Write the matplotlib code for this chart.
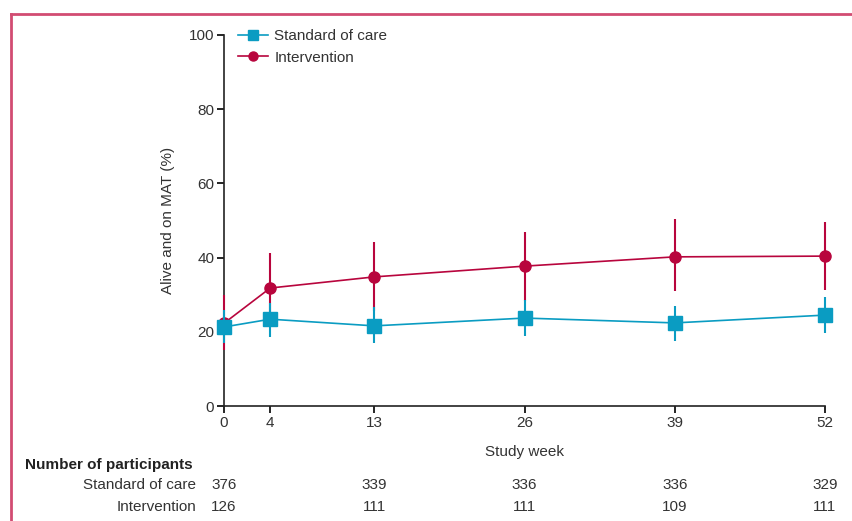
import matplotlib
matplotlib.use("Agg")
import matplotlib.pyplot as plt
from matplotlib.lines import Line2D

plt.rcParams["font.family"] = ["Liberation Sans Narrow", "Liberation Sans", "DejaVu Sans"]

weeks = [0, 4, 13, 26, 39, 52]

soc_mean = [21.3, 23.4, 21.6, 23.7, 22.4, 24.5]
soc_low = [17.0, 18.6, 17.0, 19.0, 17.5, 19.7]
soc_high = [26.0, 27.7, 26.6, 28.5, 27.0, 29.4]

int_mean = [22.3, 31.8, 34.8, 37.7, 40.2, 40.4]
int_low = [15.0, 23.5, 25.5, 28.2, 31.0, 31.3]
int_high = [29.8, 41.2, 44.2, 47.0, 50.4, 49.6]

n_soc = [376, None, 339, 336, 336, 329]
n_int = [126, None, 111, 111, 109, 111]

blue = "#0a9cc2"
red = "#b8053d"
text_col = "#333333"
fs = 11

fig = plt.figure(figsize=(8.52, 5.21), dpi=100)
ax = fig.add_axes([224 / 852, 1 - 406 / 521, 601 / 852, 371 / 521])

series = [
    (int_mean, int_low, int_high, red, "o", 8, 3),
    (soc_mean, soc_low, soc_high, blue, "s", 9.5, 4),
]
for mean, lo, hi, col, mk, ms, z in series:
    yerr = [[m - l for m, l in zip(mean, lo)], [h - m for m, h in zip(mean, hi)]]
    ax.errorbar(weeks, mean, yerr=yerr, color=col, ecolor=col, elinewidth=1.5,
                capsize=0, lw=1.2, marker=mk, markersize=ms,
                clip_on=False, zorder=z)

ax.set_xlim(0, 52)
ax.set_ylim(0, 100)
ax.set_xticks(weeks)
ax.set_yticks([0, 20, 40, 60, 80, 100])
for s in ["top", "right"]:
    ax.spines[s].set_visible(False)
for s in ["left", "bottom"]:
    ax.spines[s].set_linewidth(1.2)
    ax.spines[s].set_color("#222222")
ax.tick_params(direction="out", length=5, width=1.2, labelsize=fs,
               labelcolor=text_col, pad=2)
ax.set_xlabel("Study week", fontsize=fs, color=text_col, labelpad=11)
ax.set_ylabel("Alive and on MAT (%)", fontsize=fs, color=text_col, labelpad=10)

handles = [
    Line2D([], [], color=blue, lw=1.2, marker="s", markersize=7),
    Line2D([], [], color=red, lw=1.2, marker="o", markersize=6.5),
]
leg = ax.legend(handles, ["Standard of care", "Intervention"], loc="upper left",
                bbox_to_anchor=(0.005, 1.045), frameon=False, fontsize=fs,
                handlelength=2.0, handletextpad=0.4, labelspacing=0.5,
                borderaxespad=0.3)
for t in leg.get_texts():
    t.set_color(text_col)

# numbers at risk table
fig.text(25 / 852, 1 - 465 / 521, "Number of participants", fontsize=fs,
         fontweight="bold", color="#222222", va="center", ha="left")
for row_y, lab, counts in [(485, "Standard of care", n_soc), (507, "Intervention", n_int)]:
    fy = 1 - row_y / 521
    fig.text(196 / 852, fy, lab, fontsize=fs, color=text_col, va="center", ha="right")
    for w, n in zip(weeks, counts):
        if n is None:
            continue
        xf = ax.transData.transform((w, 0))[0] / fig.bbox.width
        fig.text(xf, fy, str(n), fontsize=fs, color=text_col, va="center", ha="center")

# frame lines of the figure panel
frame_col = "#d24c72"
fig.add_artist(Line2D([11 / 852, 1], [1 - 14 / 521, 1 - 14 / 521], color=frame_col,
                      lw=2, transform=fig.transFigure))
fig.add_artist(Line2D([11 / 852, 11 / 852], [0, 1 - 14 / 521], color=frame_col,
                      lw=2, transform=fig.transFigure))

fig.savefig("out.png", dpi=100)
